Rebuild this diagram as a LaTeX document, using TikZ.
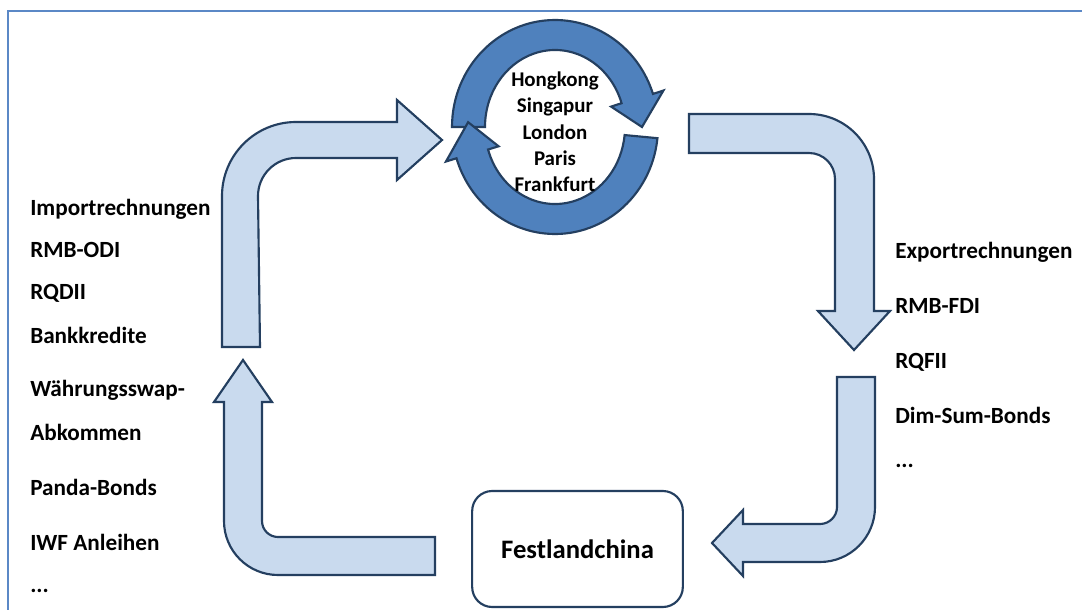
\documentclass[tikz,border=0pt]{standalone}
\usepackage{fontspec}
\setmainfont{Carlito}
\begin{document}
\begin{tikzpicture}[x=0.75pt,y=-0.75pt,
  framecol/.style={draw=frameblue,line width=2pt},
  flowarrow/.style={draw=darknavy,fill=paleblue,line width=1.6pt,line join=miter},
  ringarrow/.style={draw=darknavy,fill=ringblue,line width=1.6pt,line join=miter},
  label/.style={font=\fontsize{17.4}{20}\selectfont\bfseries,inner sep=0pt,anchor=base west},
  hub/.style={font=\fontsize{15.7}{19}\selectfont\bfseries,inner sep=0pt,anchor=base},
  mainland/.style={draw=darknavy,line width=1.6pt,fill=white,rounded corners=15pt,
    minimum width=158pt,minimum height=87pt,font=\fontsize{20}{24}\selectfont\bfseries}]
\definecolor{frameblue}{HTML}{5B88C6}
\definecolor{darknavy}{HTML}{243F60}
\definecolor{paleblue}{HTML}{C9DAEE}
\definecolor{ringblue}{HTML}{4F81BD}
\useasboundingbox (0,0) rectangle (1082,610);
\fill[white] (0,0) rectangle (1082,610);

% outer frame, open towards the right and bottom edges
\begin{scope}
\clip (0,0) rectangle (1082,610);
\draw[framecol] (8,630) -- (8,11) -- (1100,11);
\end{scope}

% bent arrow: left side, up and to the right
\draw[flowarrow] (222,347) -- (222,196) arc(180:270:74) -- (397,122) -- (397,100)
  -- (442,140) -- (397,180) -- (397,158) -- (296,158) arc(270:180:38) -- (260,347) -- cycle;

% bent arrow: right side, right and down
\draw[flowarrow] (689,114) -- (809,114) arc(270:360:65) -- (874,311) -- (890,311)
  -- (854,350) -- (818,311) -- (835,311) -- (835,179) arc(0:-90:26) -- (689,153) -- cycle;

% bent arrow: lower right, down and to the left
\draw[flowarrow] (837,377) -- (875,377) -- (875,507) arc(0:90:55) -- (743,562) -- (743,576)
  -- (712,543) -- (743,510) -- (743,524) -- (820,524) arc(90:0:17) -- cycle;

% bent arrow: lower left, right and up
\draw[flowarrow] (243,360) -- (272,402) -- (262,402) -- (262,521) arc(180:90:16)
  -- (435,537) -- (435,575) -- (278,575) arc(90:180:54) -- (224,402) -- (214,402) -- cycle;

% circular pair of arrows around the financial centres
\def\cx{555}\def\cy{127}
\draw[ringarrow] ({\cx-103},\cy) arc[start angle=180,end angle=342,x radius=103,y radius=107]
  -- ({\cx+114*cos(342)},{\cy+118*sin(342)})
  -- ({\cx+87},{\cy})
  -- ({\cx+59*cos(342)},{\cy+66*sin(342)})
  -- ({\cx+70*cos(342)},{\cy+77*sin(342)})
  arc[start angle=342,end angle=180,x radius=70,y radius=77] -- cycle;
\draw[ringarrow] ({\cx+103*cos(6)},{\cy+107*sin(6)}) arc[start angle=6,end angle=163,x radius=103,y radius=107]
  -- ({\cx+114*cos(163)},{\cy+118*sin(163)})
  -- ({\cx+87*cos(183)},{\cy+92*sin(183)})
  -- ({\cx+59*cos(163)},{\cy+66*sin(163)})
  -- ({\cx+70*cos(163)},{\cy+77*sin(163)})
  arc[start angle=163,end angle=6,x radius=70,y radius=77] -- cycle;

\node[hub] (hk) at (555,87) {Hongkong};
\node[hub] (sg) at (555,113) {Singapur};
\node[hub] (ld) at (555,139) {London};
\node[hub] (pa) at (555,165) {Paris};
\node[hub] (ff) at (555,191) {Frankfurt};

\node[mainland] (china) at (577.5,549) {Festlandchina};

% outflow instruments
\node[label] (l1) at (30,215) {Importrechnungen};
\node[label] (l2) at (30,257) {RMB-ODI};
\node[label] (l3) at (30,299) {RQDII};
\node[label] (l4) at (30,343) {Bankkredite};
\node[label] (l5) at (30,396) {Währungsswap-};
\node[label] (l6) at (30,440) {Abkommen};
\node[label] (l7) at (30,495) {Panda-Bonds};
\node[label] (l8) at (30,550) {IWF Anleihen};
\node[label] (l9) at (30,592) {...};

% inflow instruments
\node[label] (r1) at (895,258) {Exportrechnungen};
\node[label] (r2) at (895,313) {RMB-FDI};
\node[label] (r3) at (895,368) {RQFII};
\node[label] (r4) at (895,423) {Dim-Sum-Bonds};
\node[label] (r5) at (895,467) {...};
\end{tikzpicture}
\end{document}
